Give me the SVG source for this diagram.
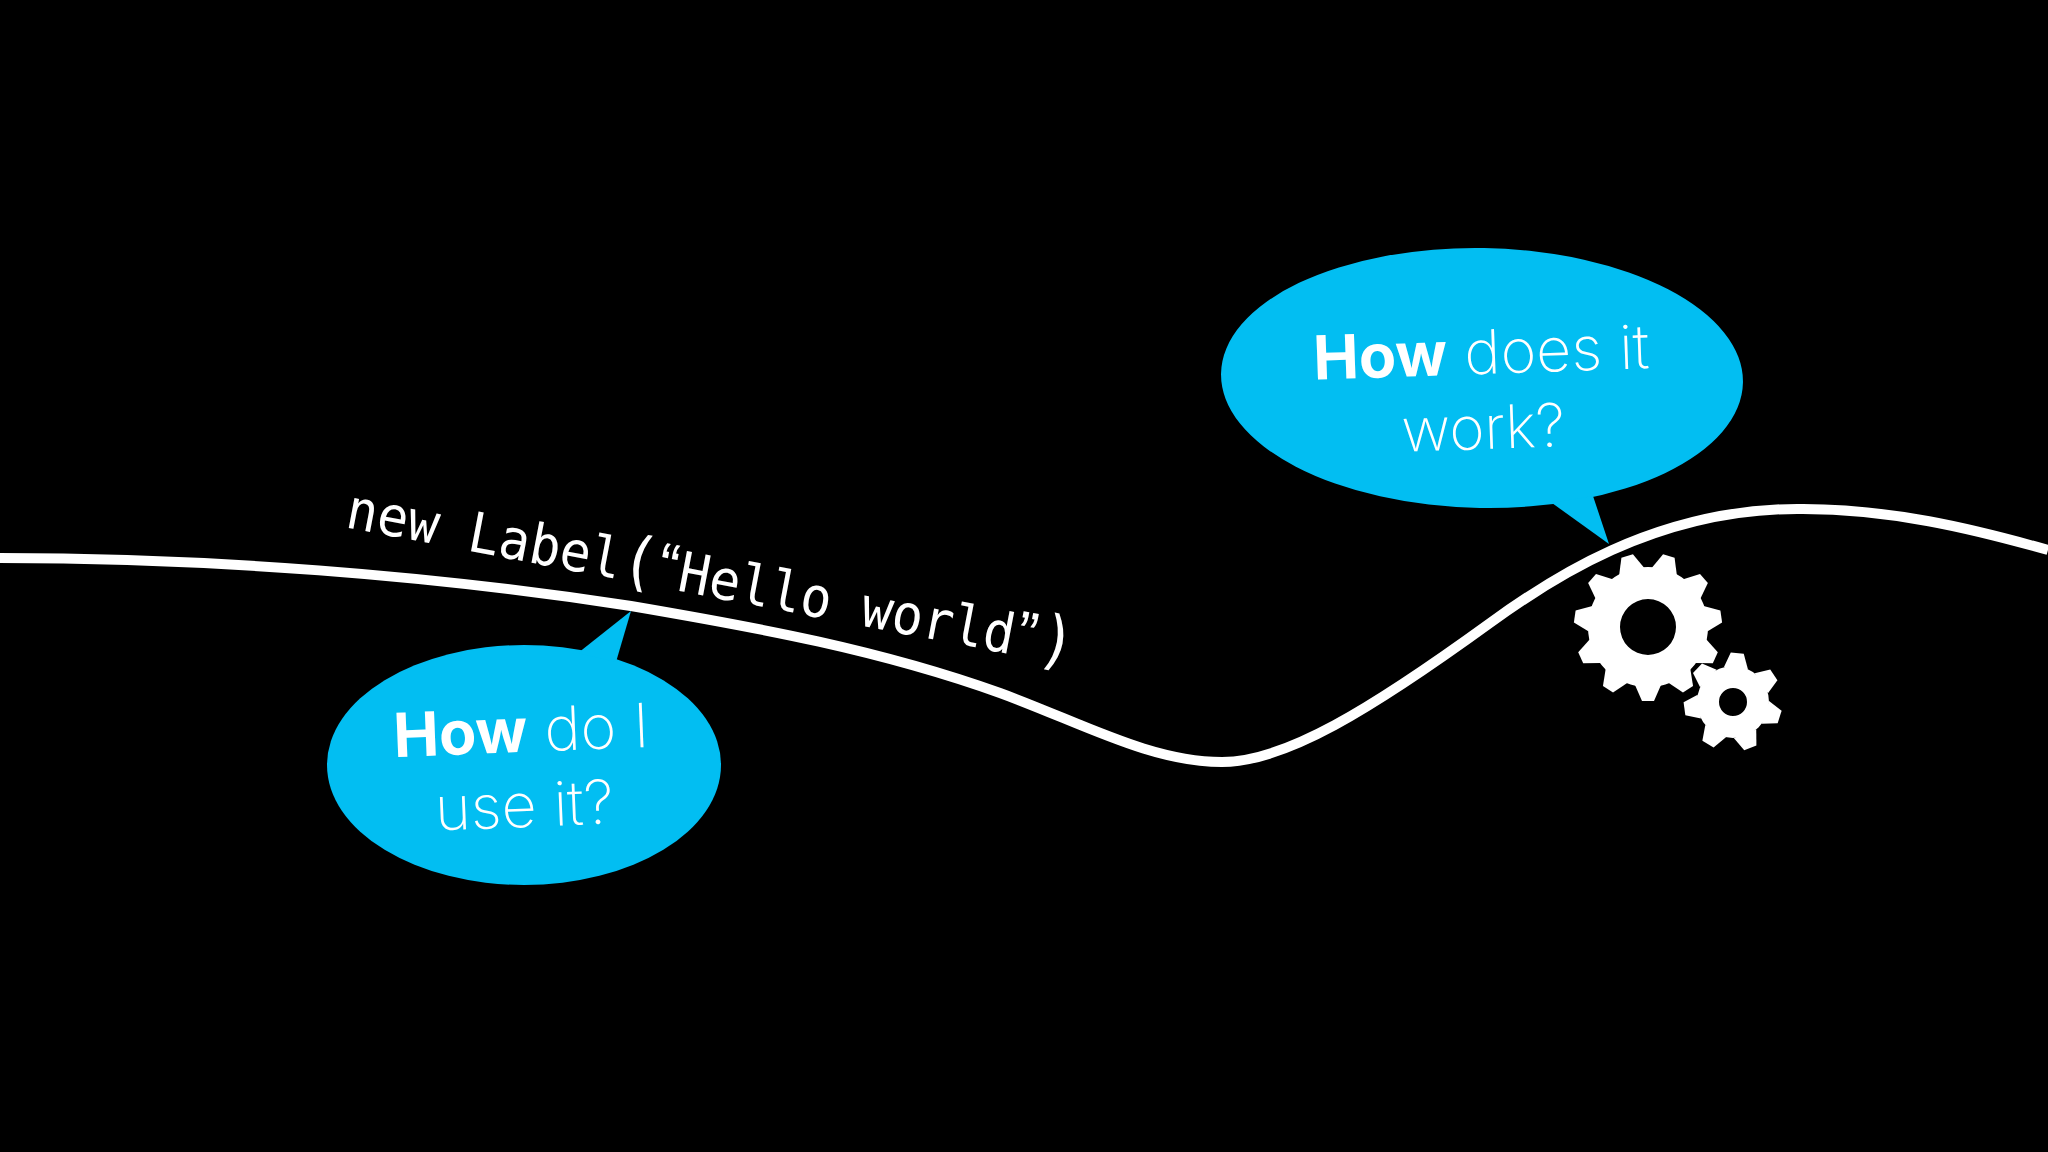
<svg xmlns="http://www.w3.org/2000/svg" width="2048" height="1152" viewBox="0 0 2048 1152">
<style>
.bubble{fill:#02BEF2}
.t{font-family:Inter,"Liberation Sans",sans-serif;font-weight:200;fill:#fff;text-anchor:middle;font-size:61px}
.t tspan{font-weight:700}
.code{font-family:"DejaVu Sans Mono",monospace;font-size:51.5px;fill:#fff}
.q{font-family:"Liberation Sans",sans-serif;font-size:60px}
.p{font-size:60px}
.gear{fill:#fff}
</style>
<defs>
<polygon id="tb" points="-13,-58 -6,-74 6,-74 13,-58"/>
<polygon id="ts" points="-12,-34 -6.5,-49 6.5,-49 12,-34"/>
</defs>
<rect width="2048" height="1152" fill="#000"/>
<g id="connectors">
<path id="timeline" d="M0,558 C210,558 430,575 631,606 C760,628 880,650 1000,693 C1080,722 1150,762 1222,762 C1285,762 1370,710 1490,623 C1545,583 1655,507 1803,509 C1890,509 1970,528 2048,550" fill="none" stroke="#fff" stroke-width="10"/>
</g>
<g id="code-label"><text class="code" transform="translate(344,527) rotate(10.8) scale(1,1.08)">new Label<tspan class="p">(</tspan><tspan class="q" dx="1">“</tspan><tspan dx="2">Hello world</tspan><tspan class="q" dx="2">”</tspan><tspan class="p" dx="3">)</tspan></text></g>
<g id="bubble-use">
<ellipse class="bubble" cx="524" cy="765" rx="197" ry="120"/>
<polygon class="bubble" points="578,653 631,611 616,662"/>
<text class="t" transform="translate(522,752) rotate(-2.3)"><tspan>How</tspan> do I</text>
<text class="t" transform="translate(525,827) rotate(-2.3)">use it?</text>
</g>
<g id="bubble-work">
<ellipse class="bubble" cx="1482" cy="378" rx="261" ry="130" transform="rotate(1 1482 378)"/>
<polygon class="bubble" points="1552,503 1609,544 1593,496"/>
<text class="t" transform="translate(1482,374) rotate(-2)"><tspan>How</tspan> does it</text>
<text class="t" style="font-size:60px" transform="translate(1484,449) rotate(-2)">work?</text>
</g>
<g id="gear-large" class="gear" transform="translate(1648,627)">
<path fill-rule="evenodd" d="M-60,0a60,60 0 1,0 120,0a60,60 0 1,0 -120,0zM-28,0a28,28 0 1,1 56,0a28,28 0 1,1 -56,0z"/>
<use href="#tb" transform="rotate(180)"/><use href="#tb" transform="rotate(212.73)"/><use href="#tb" transform="rotate(245.45)"/><use href="#tb" transform="rotate(278.18)"/><use href="#tb" transform="rotate(310.91)"/><use href="#tb" transform="rotate(343.64)"/><use href="#tb" transform="rotate(16.36)"/><use href="#tb" transform="rotate(49.09)"/><use href="#tb" transform="rotate(81.82)"/><use href="#tb" transform="rotate(114.55)"/><use href="#tb" transform="rotate(147.27)"/>
</g>
<g id="gear-small" class="gear" transform="translate(1733,702)">
<path fill-rule="evenodd" d="M-36,0a36,36 0 1,0 72,0a36,36 0 1,0 -72,0zM-14,0a14,14 0 1,1 28,0a14,14 0 1,1 -28,0z"/>
<use href="#ts" transform="rotate(5)"/><use href="#ts" transform="rotate(56.43)"/><use href="#ts" transform="rotate(107.86)"/><use href="#ts" transform="rotate(159.29)"/><use href="#ts" transform="rotate(210.71)"/><use href="#ts" transform="rotate(262.14)"/><use href="#ts" transform="rotate(313.57)"/>
</g>
</svg>
